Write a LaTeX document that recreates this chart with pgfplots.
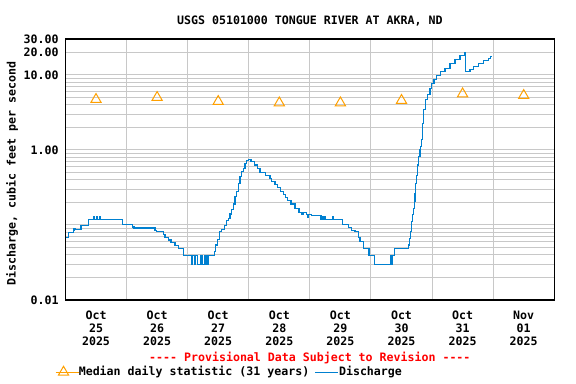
\documentclass[border=0pt]{standalone}
\usepackage{pgfplots}
\pgfplotsset{compat=1.18}
\usepackage{fontspec}
\setmonofont{DejaVu Sans Mono}
\definecolor{qblue}{RGB}{0,128,208}
\definecolor{qorange}{RGB}{255,160,0}
\definecolor{qgrid}{RGB}{200,200,200}
\pgfplotsset{
  shortline/.style={legend image code/.code={\draw[##1] (0pt,0pt) -- (12.75pt,0pt); \path (0pt,0pt) -- (17.5pt,0pt);}},
  medmark/.style={legend image code/.code={\draw[##1] plot coordinates {(0pt,0pt)}; \path (-6pt,0pt) -- (11.25pt,0pt);}},
}
\begin{document}
\ttfamily\bfseries\fontsize{8.7}{9.75}\selectfont
\begin{tikzpicture}
\path[use as bounding box] (0,0) rectangle (432pt,288pt);
\begin{axis}[
  at={(49.1pt,63pt)}, anchor=south west,
  scale only axis, width=366.6pt, height=195.75pt,
  xmin=0, xmax=8,
  ymode=log, ymin=0.01, ymax=30,
  ytick={0.01,1,10,20,30},
  yticklabels={0.01,1.00,10.00,20.00,30.00},
  minor ytick={0.02,0.03,0.04,0.05,0.06,0.07,0.08,0.09,0.1,0.2,0.3,0.4,0.5,0.6,0.7,0.8,0.9,2,3,4,5,6,7,8,9},
  xtick={1,2,3,4,5,6,7},
  xticklabels={},
  extra x ticks={0.5,1.5,2.5,3.5,4.5,5.5,6.5,7.5},
  extra x tick labels={Oct\\25\\2025,Oct\\26\\2025,Oct\\27\\2025,Oct\\28\\2025,Oct\\29\\2025,Oct\\30\\2025,Oct\\31\\2025,Nov\\01\\2025},
  extra x tick style={grid=none, major tick length=0pt},
  xticklabel style={align=center, yshift=-5.25pt},
  yticklabel style={xshift=-2pt},
  grid=both,
  major grid style={draw=qgrid, line width=0.75pt},
  minor grid style={draw=qgrid, line width=0.75pt},
  major tick length=0pt, minor tick length=0pt,
  axis line style={line width=1pt},
  title={USGS 05101000 TONGUE RIVER AT AKRA, ND},
  title style={at={(axis description cs:0.5,1)}, anchor=center, yshift=7.5pt},
  ylabel={Discharge, cubic feet per second},
  ylabel style={at={(axis description cs:-0.109,0.485)}, anchor=center},
  legend style={at={(axis description cs:0,0)}, anchor=west, xshift=-7.85pt, yshift=-54pt,
    draw=none, fill=none, legend columns=2, inner sep=0pt,
    nodes={inner sep=0pt},
    /tikz/every odd column/.append style={column sep=0pt},
    /tikz/every even column/.append style={column sep=4pt}},
  legend cell align=left,
  clip mode=individual,
]
\addplot[only marks, mark=triangle, mark size=4.4pt, color=qorange, mark options={line width=0.75pt}, medmark]
  coordinates {(0.5,4.70) (1.5,5.00) (2.5,4.42) (3.5,4.23) (4.5,4.23) (5.5,4.56) (6.5,5.58) (7.5,5.31)};
\addlegendentry{Median daily statistic (31 years)}
\addplot[const plot, color=qblue, line width=0.85pt, shortline]
  table {
x y
0.008 0.0686
0.046 0.080
0.128 0.0885
0.140 0.085
0.150 0.0885
0.167 0.088
0.254 0.097
0.373 0.119
0.466 0.130
0.473 0.119
0.516 0.130
0.523 0.119
0.565 0.130
0.572 0.119
0.936 0.100
1.100 0.094
1.121 0.091
1.465 0.085
1.493 0.081
1.601 0.075
1.628 0.0686
1.682 0.063
1.727 0.058
1.792 0.0531
1.846 0.049
1.928 0.0394
2.062 0.030
2.079 0.0394
2.111 0.030
2.128 0.0394
2.160 0.030
2.218 0.0394
2.234 0.030
2.275 0.0394
2.291 0.030
2.308 0.0394
2.324 0.030
2.337 0.0394
2.435 0.044
2.458 0.054
2.484 0.064
2.517 0.081
2.556 0.088
2.610 0.098
2.638 0.114
2.664 0.123
2.692 0.140
2.720 0.162
2.746 0.190
2.774 0.239
2.802 0.277
2.828 0.360
2.856 0.440
2.884 0.520
2.910 0.570
2.938 0.650
2.966 0.720
2.992 0.750
3.036 0.700
3.101 0.630
3.139 0.570
3.183 0.500
3.277 0.460
3.347 0.420
3.375 0.380
3.429 0.350
3.466 0.315
3.522 0.277
3.565 0.256
3.604 0.230
3.637 0.210
3.691 0.190
3.756 0.167
3.822 0.147
3.871 0.140
3.887 0.147
3.948 0.136
3.961 0.125
3.977 0.136
4.029 0.132
4.182 0.119
4.198 0.129
4.214 0.119
4.231 0.129
4.247 0.119
4.367 0.129
4.394 0.119
4.537 0.100
4.628 0.092
4.684 0.085
4.738 0.081
4.792 0.0686
4.820 0.060
4.885 0.049
4.967 0.0394
5.061 0.030
5.322 0.0394
5.336 0.030
5.344 0.0394
5.388 0.049
5.610 0.054
5.627 0.066
5.650 0.081
5.666 0.111
5.682 0.136
5.692 0.167
5.709 0.205
5.720 0.264
5.732 0.360
5.748 0.460
5.764 0.630
5.781 0.810
5.802 1.00
5.813 1.10
5.830 1.36
5.846 2.27
5.867 3.41
5.895 4.64
5.921 5.41
5.966 6.65
5.993 7.74
6.031 8.58
6.075 9.70
6.141 11.07
6.211 12.27
6.293 14.3
6.375 16.2
6.457 18.1
6.538 19.8
6.543 11.07
6.620 11.9
6.674 12.9
6.756 14.3
6.838 15.5
6.920 16.7
6.959 17.5
6.965 17.5
};
\addlegendentry{Discharge}
\node[red, anchor=center] at (axis description cs:0.5,0) [yshift=-43.5pt] {---- Provisional Data Subject to Revision ----};
\end{axis}
\end{tikzpicture}
\end{document}
